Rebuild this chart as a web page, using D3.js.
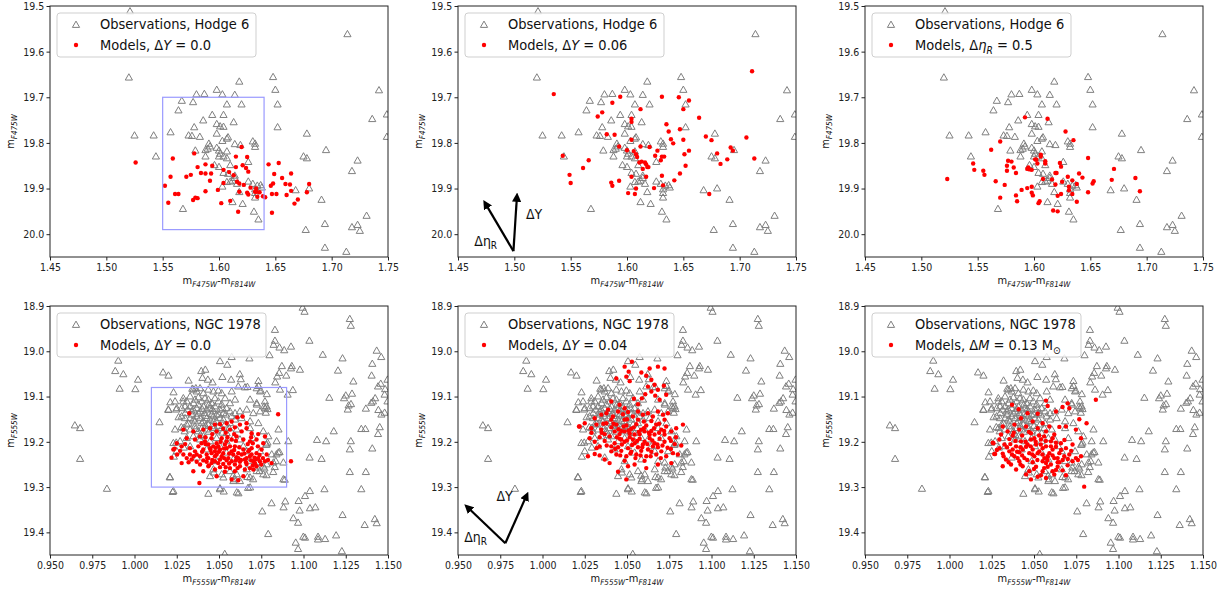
<!DOCTYPE html>
<html><head><meta charset="utf-8">
<script src="https://cdn.jsdelivr.net/npm/d3@7"></script>
<style>body{margin:0;background:#fff}svg{display:block}</style>
</head><body><svg id="c" width="1224" height="590"></svg>
<script>
// ---------------- DATA ----------------
const xTicksTop = [1.45,1.50,1.55,1.60,1.65,1.70,1.75];
const yTicksTop = [19.5,19.6,19.7,19.8,19.9,20.0];
const xTicksBot = [0.950,0.975,1.000,1.025,1.050,1.075,1.100,1.125,1.150];
const yTicksBot = [18.9,19.0,19.1,19.2,19.3,19.4];
const xDomainTop = [1.45,1.75], yDomainTop = [19.5,20.05];
const xDomainBot = [0.95,1.15], yDomainBot = [18.9,19.45];
const obsLabels = ["Observations, Hodge 6","Observations, NGC 1978"];
const modelLabels = [
  [["Models, Δ",""],["Y","i"],[" = 0.0",""]],
  [["Models, Δ",""],["Y","i"],[" = 0.06",""]],
  [["Models, Δ",""],["η","i"],["R","isub"],[" = 0.5",""]],
  [["Models, Δ",""],["Y","i"],[" = 0.0",""]],
  [["Models, Δ",""],["Y","i"],[" = 0.04",""]],
  [["Models, Δ",""],["M","i"],[" = 0.13 M",""],["⊙","sub"]]
];
const xLabelTop = ["m","F475W","-","m","F814W"];
const xLabelBot = ["m","F555W","-","m","F814W"];
const yLabelTop = ["m","F475W"], yLabelBot = ["m","F555W"];
// selection boxes [x0,x1,y0,y1]
const boxTop = [1.55,1.64,19.70,19.99];
const boxBot = [1.01,1.09,19.08,19.30];
// arrows: [x0,y0,x1,y1]
const arrowsTopY = [1.4992,20.037,1.5021,19.925];
const arrowsTopEta = [1.4992,20.037,1.4758,19.939];
const arrowLabelsTop = [[1.5175,19.956],[1.4746,20.015]];
const arrowsBotY = [0.978,19.424,0.9898,19.325];
const arrowsBotEta = [0.978,19.424,0.9569,19.349];
const arrowLabelsBot = [[0.9776,19.320],[0.9604,19.410]];

const obsHodge6 = [[1.521,19.512],[1.714,19.562],[1.520,19.657],[1.648,19.656],[1.650,19.684],[1.618,19.666],[1.742,19.685],[1.598,19.684],[1.603,19.694],[1.580,19.694],[1.587,19.693],[1.614,19.695],[1.567,19.708],[1.577,19.711],[1.564,19.729],[1.607,19.716],[1.620,19.716],[1.652,19.716],[1.586,19.751],[1.594,19.739],[1.604,19.739],[1.613,19.755],[1.598,19.759],[1.601,19.764],[1.604,19.765],[1.578,19.766],[1.652,19.766],[1.736,19.748],[1.749,19.738],[1.525,19.784],[1.542,19.784],[1.557,19.777],[1.573,19.784],[1.576,19.785],[1.583,19.787],[1.598,19.780],[1.607,19.791],[1.608,19.788],[1.603,19.796],[1.678,19.780],[1.749,19.787],[1.614,19.803],[1.619,19.805],[1.630,19.797],[1.632,19.802],[1.632,19.809],[1.591,19.802],[1.592,19.808],[1.590,19.813],[1.588,19.816],[1.579,19.817],[1.598,19.811],[1.600,19.817],[1.607,19.819],[1.601,19.824],[1.604,19.830],[1.600,19.830],[1.607,19.834],[1.588,19.830],[1.544,19.830],[1.675,19.830],[1.678,19.834],[1.695,19.816],[1.723,19.839],[1.718,19.862],[1.596,19.849],[1.600,19.853],[1.610,19.849],[1.626,19.842],[1.604,19.866],[1.608,19.868],[1.614,19.872],[1.614,19.877],[1.607,19.886],[1.610,19.885],[1.612,19.883],[1.616,19.890],[1.603,19.896],[1.626,19.885],[1.630,19.890],[1.634,19.894],[1.637,19.893],[1.638,19.898],[1.632,19.902],[1.632,19.910],[1.632,19.920],[1.618,19.908],[1.668,19.904],[1.680,19.900],[1.691,19.925],[1.612,19.930],[1.621,19.934],[1.568,19.945],[1.631,19.951],[1.635,19.968],[1.677,19.991],[1.694,19.978],[1.718,19.985],[1.723,19.980],[1.725,19.993],[1.731,19.960],[1.694,20.030],[1.713,20.039]];

const modHodgeY0 = [[1.526,19.843],[1.552,19.894],[1.555,19.931],[1.557,19.874],[1.559,19.834],[1.561,19.912],[1.564,19.912],[1.571,19.874],[1.575,19.870],[1.578,19.823],[1.577,19.925],[1.579,19.920],[1.581,19.921],[1.581,19.853],[1.584,19.866],[1.588,19.847],[1.588,19.867],[1.588,19.906],[1.592,19.883],[1.593,19.867],[1.594,19.850],[1.599,19.903],[1.602,19.932],[1.604,19.859],[1.604,19.888],[1.609,19.864],[1.610,19.927],[1.613,19.871],[1.615,19.853],[1.615,19.830],[1.616,19.885],[1.618,19.907],[1.617,19.951],[1.618,19.889],[1.620,19.809],[1.621,19.849],[1.622,19.892],[1.625,19.831],[1.624,19.855],[1.626,19.863],[1.625,19.909],[1.626,19.913],[1.628,19.898],[1.632,19.907],[1.633,19.900],[1.633,19.907],[1.634,19.918],[1.636,19.908],[1.639,19.917],[1.641,19.919],[1.644,19.847],[1.646,19.894],[1.647,19.912],[1.647,19.953],[1.648,19.889],[1.649,19.868],[1.651,19.912],[1.653,19.844],[1.656,19.877],[1.659,19.890],[1.660,19.914],[1.663,19.891],[1.664,19.867],[1.664,19.905],[1.667,19.933],[1.670,19.924],[1.678,19.908],[1.680,19.890]];

const modHodgeY06 = [[1.535,19.693],[1.543,19.828],[1.549,19.870],[1.550,19.888],[1.561,19.855],[1.566,19.838],[1.574,19.742],[1.578,19.733],[1.582,19.781],[1.586,19.887],[1.587,19.894],[1.587,19.712],[1.589,19.782],[1.594,19.699],[1.593,19.808],[1.593,19.883],[1.600,19.816],[1.601,19.910],[1.604,19.747],[1.604,19.754],[1.604,19.793],[1.604,19.874],[1.606,19.818],[1.607,19.912],[1.608,19.900],[1.608,19.825],[1.609,19.831],[1.611,19.843],[1.612,19.726],[1.612,19.808],[1.613,19.841],[1.614,19.857],[1.616,19.843],[1.617,19.874],[1.617,19.847],[1.618,19.853],[1.619,19.853],[1.620,19.809],[1.624,19.899],[1.625,19.828],[1.627,19.817],[1.630,19.838],[1.631,19.830],[1.631,19.699],[1.631,19.872],[1.632,19.893],[1.633,19.830],[1.635,19.759],[1.637,19.775],[1.641,19.801],[1.639,19.792],[1.642,19.882],[1.646,19.700],[1.647,19.770],[1.647,19.867],[1.650,19.726],[1.650,19.793],[1.651,19.825],[1.652,19.850],[1.655,19.707],[1.655,19.817],[1.664,19.745],[1.670,19.786],[1.673,19.912],[1.675,19.794],[1.680,19.823],[1.683,19.846],[1.689,19.836],[1.692,19.810],[1.694,19.817],[1.706,19.788],[1.711,19.643],[1.713,19.834]];

const modHodgeEta = [[1.523,19.879],[1.546,19.845],[1.547,19.859],[1.555,19.861],[1.556,19.870],[1.562,19.815],[1.566,19.884],[1.570,19.797],[1.570,19.920],[1.574,19.892],[1.576,19.850],[1.576,19.861],[1.577,19.839],[1.580,19.841],[1.582,19.854],[1.584,19.866],[1.584,19.915],[1.585,19.928],[1.589,19.903],[1.592,19.744],[1.594,19.899],[1.594,19.857],[1.595,19.854],[1.596,19.858],[1.598,19.859],[1.598,19.909],[1.599,19.915],[1.598,19.896],[1.601,19.836],[1.602,19.837],[1.603,19.845],[1.604,19.932],[1.605,19.928],[1.606,19.826],[1.606,19.830],[1.608,19.879],[1.610,19.845],[1.610,19.840],[1.612,19.747],[1.616,19.880],[1.617,19.948],[1.619,19.866],[1.619,19.891],[1.620,19.866],[1.621,19.950],[1.621,19.916],[1.623,19.844],[1.624,19.852],[1.624,19.912],[1.625,19.885],[1.628,19.775],[1.630,19.874],[1.631,19.896],[1.631,19.904],[1.634,19.882],[1.634,19.912],[1.635,19.794],[1.638,19.890],[1.638,19.929],[1.640,19.867],[1.643,19.876],[1.648,19.833],[1.648,19.908],[1.652,19.889],[1.653,19.884],[1.669,19.881],[1.671,19.857],[1.690,19.877],[1.694,19.906]];

const obsNGC1978 = [[1.0995,18.904],[1.1006,18.913],[1.1274,18.929],[1.1280,18.944],[1.0831,18.953],[1.0831,18.977],[1.1035,18.977],[1.0823,18.986],[1.0858,18.992],[1.0886,18.998],[1.0926,18.990],[1.1433,18.999],[1.1460,19.013],[1.1114,19.008],[1.1231,19.016],[1.0799,19.009],[1.0575,19.013],[1.0506,19.022],[1.0680,19.016],[0.9904,19.021],[0.9886,19.044],[0.9934,19.051],[0.9912,19.083],[1.0021,19.063],[1.0005,19.084],[1.0169,19.047],[1.0201,19.054],[1.0320,19.065],[1.0148,19.157],[0.9647,19.164],[0.9678,19.170],[0.9678,19.238],[0.9837,19.304],[1.0209,19.278],[1.0226,19.311],[1.0437,19.315],[1.0506,19.303],[1.0528,19.310],[1.0615,19.314],[1.0672,19.302],[1.0756,19.354],[1.0791,19.404],[1.0811,19.336],[1.0882,19.345],[1.0892,19.332],[1.0940,19.369],[1.0971,19.331],[1.0977,19.352],[1.0968,19.379],[1.0954,19.423],[1.0968,19.437],[1.0999,19.410],[1.1009,19.412],[1.1009,19.320],[1.1038,19.309],[1.1038,19.347],[1.1070,19.345],[1.1086,19.410],[1.1086,19.416],[1.1128,19.415],[1.1124,19.305],[1.1193,19.407],[1.1227,19.442],[1.1231,19.362],[1.1342,19.305],[1.1362,19.384],[1.1422,19.371],[1.1433,19.380],[1.1369,19.267],[1.1274,19.267],[1.1274,19.217],[1.1280,19.199],[1.1407,19.215],[1.1080,19.196],[1.1134,19.199],[1.1036,19.235],[1.1107,19.238],[1.1179,19.177],[1.1342,19.172],[1.1366,19.172],[1.1441,19.183],[1.1451,19.168],[1.1461,19.140],[1.1443,19.130],[1.1480,19.136],[1.1480,19.096],[1.1497,19.111],[1.1411,19.111],[1.1401,19.114],[1.1424,19.104],[1.1369,19.127],[1.1262,19.129],[1.1267,19.120],[1.1281,19.117],[1.1287,19.094],[1.1250,19.098],[1.1240,19.104],[1.1295,19.067],[1.1204,19.043],[1.1153,19.103],[1.1403,19.054],[1.1407,19.028],[1.1457,19.072],[1.1441,19.078],[1.1483,19.084],[1.1497,19.063],[1.0979,19.041],[1.0926,19.038],[1.0931,19.033],[1.0872,19.033],[1.0898,19.054],[1.0856,19.048],[1.0844,19.056],[1.0833,19.069],[1.0906,19.096],[1.0937,19.086],[1.0783,19.095],[1.0734,19.077],[1.0747,19.087],[1.0668,19.079],[1.0623,19.051],[1.0629,19.062],[1.0572,19.063],[1.0520,19.057],[1.0462,19.069],[1.0549,19.030],[1.0395,19.044],[1.0419,19.041],[1.0434,19.063],[1.0402,19.059],[1.0342,19.083],[1.0363,19.082],[1.0231,19.091],[1.0212,19.113],[1.0240,19.111],[1.0201,19.130],[1.0247,19.129],[1.0288,19.111],[1.0315,19.129],[1.0261,19.146],[1.0277,19.168],[1.0297,19.177],[1.0247,19.202],[1.0233,19.233],[1.0292,19.213],[1.0787,19.128],[1.0777,19.136],[1.0724,19.118],[1.0767,19.122],[1.0852,19.173],[1.0787,19.202],[1.0779,19.207],[1.0910,19.199],[1.0858,19.223],[1.0840,19.228],[1.0836,19.243],[1.0881,19.246],[1.0830,19.256],[1.0763,19.255],[1.0769,19.259],[1.0740,19.265],[1.0821,19.267],[1.0781,19.274],[1.0889,19.284],[1.0702,19.283],[1.0727,19.257],[1.0668,19.278],[1.0589,19.283],[1.0584,19.275],[1.0470,19.268],[1.0534,19.448],
[1.0733,19.066],[1.0348,19.085],[1.0368,19.089],[1.0388,19.082],[1.0408,19.093],[1.0437,19.085],[1.0467,19.089],[1.0496,19.087],[1.0516,19.093],[1.0575,19.089],[1.0614,19.078],[1.0654,19.080],[1.0723,19.082],[1.0743,19.089],[1.0861,19.085],[1.0289,19.104],[1.0329,19.100],[1.0358,19.107],[1.0378,19.102],[1.0398,19.111],[1.0417,19.104],[1.0437,19.107],[1.0457,19.115],[1.0476,19.104],[1.0496,19.111],[1.0536,19.104],[1.0565,19.115],[1.0595,19.107],[1.0684,19.107],[1.0723,19.115],[1.0772,19.111],[1.0782,19.122],[1.0200,19.129],[1.0250,19.126],[1.0279,19.126],[1.0299,19.122],[1.0329,19.122],[1.0348,19.129],[1.0368,19.126],[1.0388,19.133],[1.0408,19.122],[1.0427,19.129],[1.0447,19.126],[1.0467,19.133],[1.0486,19.140],[1.0506,19.129],[1.0526,19.137],[1.0545,19.126],[1.0565,19.133],[1.0595,19.137],[1.0624,19.133],[1.0664,19.129],[1.0703,19.137],[1.0743,19.133],[1.0772,19.126],[1.0279,19.144],[1.0299,19.148],[1.0329,19.148],[1.0348,19.151],[1.0368,19.144],[1.0388,19.148],[1.0408,19.155],[1.0427,19.148],[1.0447,19.151],[1.0467,19.144],[1.0486,19.155],[1.0506,19.148],[1.0526,19.151],[1.0565,19.159],[1.0595,19.151],[1.0634,19.148],[1.0684,19.155],[1.0733,19.159],[1.0240,19.173],[1.0289,19.170],[1.0329,19.173],[1.0358,19.166],[1.0378,19.177],[1.0398,19.170],[1.0427,19.173],[1.0457,19.166],[1.0486,19.177],[1.0516,19.170],[1.0545,19.181],[1.0605,19.173],[1.0684,19.170],[1.0762,19.177],[1.0792,19.188],[1.0230,19.203],[1.0270,19.199],[1.0309,19.192],[1.0348,19.188],[1.0388,19.195],[1.0486,19.192],[1.0545,19.199],[1.0624,19.195],[1.0703,19.192],[1.0782,19.206],[1.0841,19.199],[1.0250,19.221],[1.0329,19.210],[1.0427,19.217],[1.0545,19.224],[1.0664,19.221],[1.0743,19.221],[1.0812,19.228],[1.0851,19.224],[1.0368,19.235],[1.0486,19.243],[1.0585,19.239],[1.0684,19.243],[1.0723,19.246],[1.0782,19.250],[1.0822,19.246],[1.0467,19.261],[1.0516,19.272],[1.0565,19.265],[1.0605,19.272],[1.0664,19.261],[1.0723,19.265],[1.0762,19.272],[1.0210,19.279],[1.0447,19.276],[1.0526,19.279],[1.0585,19.287],[1.0624,19.287],[1.0684,19.279],[1.0881,19.283],[1.0230,19.309],[1.0506,19.305],[1.0605,19.312],[1.0684,19.301],
[1.0309,19.111],[1.0338,19.133],[1.0378,19.118],[1.0417,19.137],[1.0457,19.140],[1.0476,19.122],[1.0516,19.118],[1.0358,19.155],[1.0437,19.162],[1.0398,19.159],[1.0467,19.155],[1.0536,19.162],[1.0309,19.162],[1.0575,19.144],[1.0408,19.188],[1.0447,19.199],[1.0585,19.192],[1.0644,19.210],[1.0506,19.210],
[1.0350,19.115],[1.0380,19.138],[1.0400,19.128],[1.0420,19.143],[1.0440,19.118],[1.0460,19.128],[1.0500,19.140],[1.0520,19.126],[1.0540,19.140],[1.0360,19.172],[1.0390,19.185],[1.0420,19.165],[1.0440,19.178],[1.0470,19.170],[1.0500,19.165],[1.0520,19.180],[1.0340,19.140],[1.0320,19.160],[1.0300,19.137],[1.0560,19.170]];

const modNGCY0 = [[1.0324,19.137],[1.0850,19.139],[1.0608,19.146],[1.0640,19.144],[1.0575,19.155],[1.0545,19.159],[1.0506,19.161],[1.0476,19.162],[1.0624,19.162],[1.0663,19.159],[1.0289,19.173],[1.0348,19.177],[1.0407,19.173],[1.0447,19.170],[1.0486,19.177],[1.0525,19.171],[1.0565,19.173],[1.0594,19.168],[1.0634,19.177],[1.0663,19.170],[1.0693,19.181],[1.0732,19.183],[1.0772,19.188],[1.0250,19.203],[1.0309,19.192],[1.0358,19.195],[1.0388,19.188],[1.0417,19.199],[1.0456,19.192],[1.0486,19.203],[1.0516,19.192],[1.0545,19.199],[1.0575,19.195],[1.0604,19.188],[1.0644,19.195],[1.0683,19.199],[1.0722,19.195],[1.0762,19.203],[1.0230,19.217],[1.0279,19.210],[1.0289,19.228],[1.0328,19.214],[1.0358,19.221],[1.0378,19.210],[1.0407,19.217],[1.0427,19.228],[1.0447,19.214],[1.0476,19.221],[1.0496,19.210],[1.0525,19.225],[1.0545,19.214],[1.0575,19.221],[1.0594,19.210],[1.0614,19.225],[1.0644,19.217],[1.0673,19.221],[1.0693,19.214],[1.0722,19.225],[1.0752,19.217],[1.0782,19.228],[1.0279,19.247],[1.0309,19.236],[1.0338,19.239],[1.0368,19.244],[1.0388,19.232],[1.0407,19.241],[1.0437,19.236],[1.0456,19.247],[1.0476,19.232],[1.0506,19.239],[1.0525,19.249],[1.0555,19.236],[1.0575,19.243],[1.0604,19.234],[1.0624,19.244],[1.0653,19.239],[1.0683,19.232],[1.0703,19.243],[1.0732,19.236],[1.0772,19.243],[1.0811,19.247],[1.0348,19.265],[1.0407,19.265],[1.0437,19.254],[1.0476,19.261],[1.0506,19.256],[1.0535,19.266],[1.0565,19.258],[1.0594,19.265],[1.0624,19.254],[1.0653,19.261],[1.0683,19.258],[1.0722,19.254],[1.0384,19.291],[1.0486,19.276],[1.0575,19.283],[1.0614,19.285],[1.0644,19.276],[1.0397,19.203],[1.0437,19.206],[1.0466,19.210],[1.0506,19.217],[1.0535,19.206],[1.0565,19.210],[1.0584,19.228],[1.0614,19.236],[1.0634,19.228],[1.0663,19.236],[1.0693,19.228],[1.0713,19.247],[1.0742,19.243],[1.0486,19.228],[1.0456,19.225],[1.0427,19.244],[1.0388,19.250],[1.0368,19.228],[1.0328,19.228],[1.0545,19.241],[1.0594,19.250],[1.0663,19.249],[1.0703,19.261],[1.0476,19.243],[1.0516,19.232],[1.0926,19.243],[1.0237,19.215],[1.0219,19.235],[1.0252,19.228],
[1.0420,19.205],[1.0450,19.218],[1.0480,19.213],[1.0500,19.222],[1.0530,19.215],[1.0560,19.226],[1.0590,19.218],[1.0620,19.212],[1.0650,19.226],[1.0680,19.218],[1.0710,19.235],[1.0740,19.229],[1.0430,19.236],[1.0460,19.240],[1.0495,19.247],[1.0530,19.236],[1.0560,19.248],[1.0600,19.241],[1.0630,19.240],[1.0660,19.245],[1.0690,19.241],[1.0720,19.238],[1.0760,19.236],[1.0790,19.240],[1.0510,19.200],[1.0550,19.190],[1.0600,19.198],[1.0670,19.205],[1.0700,19.203],[1.0400,19.222],[1.0350,19.232],[1.0320,19.245],[1.0440,19.252],[1.0540,19.256],[1.0610,19.258],[1.0700,19.252],[1.0750,19.250],[1.0420,19.190],[1.0460,19.183],[1.0540,19.180],[1.0590,19.183],[1.0690,19.190],[1.0730,19.210],[1.0300,19.205],[1.0270,19.220]];

const modNGCY04 = [[1.0529,19.023],[1.0486,19.034],[1.0510,19.045],[1.0585,19.047],[1.0437,19.060],[1.0496,19.056],[1.0516,19.066],[1.0614,19.054],[1.0644,19.063],[1.0634,19.038],[1.0683,19.034],[1.0722,19.038],[1.0624,19.078],[1.0663,19.074],[1.0683,19.085],[1.0718,19.076],[1.0608,19.095],[1.0644,19.089],[1.0588,19.104],[1.0541,19.105],[1.0565,19.117],[1.0667,19.098],[1.0693,19.107],[1.0732,19.096],[1.0456,19.118],[1.0486,19.126],[1.0407,19.111],[1.0388,19.129],[1.0309,19.148],[1.0348,19.140],[1.0378,19.137],[1.0417,19.144],[1.0447,19.133],[1.0476,19.139],[1.0506,19.134],[1.0535,19.144],[1.0565,19.133],[1.0594,19.140],[1.0624,19.137],[1.0653,19.144],[1.0683,19.133],[1.0713,19.140],[1.0742,19.137],[1.0407,19.151],[1.0486,19.151],[1.0565,19.151],[1.0644,19.154],[1.0722,19.151],[1.0220,19.166],[1.0250,19.159],[1.0289,19.170],[1.0319,19.162],[1.0348,19.173],[1.0378,19.159],[1.0407,19.168],[1.0437,19.162],[1.0466,19.176],[1.0496,19.164],[1.0525,19.171],[1.0555,19.161],[1.0584,19.173],[1.0614,19.164],[1.0644,19.176],[1.0673,19.162],[1.0703,19.173],[1.0732,19.166],[1.0762,19.177],[1.0791,19.170],[1.0831,19.162],[1.0368,19.183],[1.0456,19.183],[1.0545,19.184],[1.0634,19.184],[1.0722,19.184],[1.0279,19.192],[1.0309,19.200],[1.0338,19.190],[1.0368,19.198],[1.0397,19.188],[1.0427,19.203],[1.0456,19.193],[1.0486,19.200],[1.0516,19.190],[1.0545,19.203],[1.0575,19.193],[1.0604,19.200],[1.0634,19.192],[1.0663,19.203],[1.0693,19.193],[1.0722,19.200],[1.0752,19.192],[1.0782,19.205],[1.0821,19.208],[1.0338,19.210],[1.0447,19.212],[1.0565,19.212],[1.0683,19.212],[1.0269,19.232],[1.0309,19.227],[1.0338,19.230],[1.0368,19.239],[1.0407,19.221],[1.0437,19.228],[1.0466,19.220],[1.0496,19.232],[1.0525,19.222],[1.0555,19.228],[1.0584,19.220],[1.0614,19.232],[1.0644,19.222],[1.0673,19.228],[1.0703,19.221],[1.0732,19.232],[1.0772,19.225],[1.0801,19.228],[1.0486,19.242],[1.0604,19.242],[1.0447,19.266],[1.0506,19.254],[1.0545,19.250],[1.0614,19.258],[1.0496,19.283],[1.0397,19.247],[1.0683,19.250],[1.0762,19.247],[1.0427,19.177],[1.0486,19.177],[1.0516,19.181],[1.0575,19.183],[1.0604,19.177],[1.0663,19.184],[1.0466,19.195],[1.0535,19.195],[1.0594,19.206],[1.0653,19.210],[1.0506,19.214],[1.0624,19.217],[1.0407,19.210],[1.0216,19.166],
[1.0420,19.160],[1.0450,19.172],[1.0480,19.166],[1.0510,19.175],[1.0540,19.168],[1.0570,19.178],[1.0600,19.170],[1.0630,19.180],[1.0660,19.170],[1.0690,19.180],[1.0720,19.176],[1.0440,19.190],[1.0470,19.206],[1.0500,19.197],[1.0530,19.207],[1.0560,19.198],[1.0590,19.212],[1.0620,19.205],[1.0650,19.197],[1.0680,19.206],[1.0710,19.208],[1.0740,19.213],[1.0430,19.216],[1.0460,19.230],[1.0520,19.226],[1.0550,19.236],[1.0580,19.230],[1.0640,19.232],[1.0700,19.236],[1.0760,19.216],[1.0350,19.180],[1.0380,19.208],[1.0320,19.214],[1.0290,19.180],[1.0360,19.160],[1.0760,19.198],[1.0790,19.190],[1.0500,19.150],[1.0600,19.155],[1.0690,19.160]];

const modNGCdM = [[1.0370,19.118],[1.0571,19.109],[1.0581,19.121],[1.0669,19.123],[1.0699,19.115],[1.0709,19.126],[1.0866,19.107],[1.0630,19.133],[1.0768,19.150],[1.0811,19.159],[1.0409,19.128],[1.0462,19.137],[1.0522,19.138],[1.0423,19.148],[1.0492,19.155],[1.0551,19.159],[1.0689,19.166],[1.0650,19.167],[1.0748,19.173],[1.0778,19.192],[1.0315,19.166],[1.0344,19.177],[1.0384,19.162],[1.0413,19.173],[1.0453,19.166],[1.0482,19.181],[1.0522,19.170],[1.0571,19.177],[1.0591,19.166],[1.0620,19.184],[1.0374,19.186],[1.0305,19.184],[1.0260,19.203],[1.0295,19.195],[1.0325,19.206],[1.0354,19.194],[1.0394,19.210],[1.0423,19.199],[1.0453,19.211],[1.0482,19.195],[1.0512,19.206],[1.0541,19.195],[1.0571,19.210],[1.0600,19.199],[1.0630,19.211],[1.0659,19.203],[1.0689,19.214],[1.0728,19.206],[1.0295,19.214],[1.0502,19.192],[1.0265,19.227],[1.0315,19.226],[1.0354,19.221],[1.0384,19.232],[1.0413,19.223],[1.0443,19.236],[1.0472,19.225],[1.0502,19.232],[1.0531,19.221],[1.0561,19.236],[1.0591,19.225],[1.0620,19.236],[1.0650,19.225],[1.0679,19.232],[1.0709,19.228],[1.0748,19.236],[1.0778,19.232],[1.0334,19.239],[1.0413,19.243],[1.0492,19.245],[1.0571,19.247],[1.0650,19.245],[1.0728,19.243],[1.0315,19.254],[1.0364,19.250],[1.0394,19.261],[1.0433,19.254],[1.0472,19.265],[1.0512,19.255],[1.0551,19.265],[1.0581,19.255],[1.0610,19.265],[1.0640,19.255],[1.0669,19.263],[1.0699,19.252],[1.0541,19.274],[1.0620,19.272],[1.0453,19.272],[1.0689,19.274],[1.0482,19.283],[1.0522,19.277],[1.0571,19.280],[1.0797,19.299],[1.0374,19.217],[1.0433,19.217],[1.0492,19.217],[1.0551,19.214],[1.0610,19.217],[1.0462,19.206],[1.0522,19.225],[1.0581,19.232],[1.0640,19.236],[1.0403,19.236],[1.0551,19.243],[1.0600,19.250],[1.0256,19.202],[1.0270,19.227],
[1.0360,19.205],[1.0390,19.198],[1.0420,19.212],[1.0450,19.200],[1.0480,19.210],[1.0510,19.200],[1.0540,19.206],[1.0570,19.198],[1.0600,19.210],[1.0630,19.202],[1.0660,19.218],[1.0370,19.228],[1.0400,19.222],[1.0430,19.230],[1.0460,19.240],[1.0490,19.228],[1.0520,19.240],[1.0550,19.228],[1.0580,19.240],[1.0610,19.230],[1.0640,19.245],[1.0670,19.240],[1.0700,19.238],[1.0340,19.212],[1.0320,19.232],[1.0350,19.245],[1.0420,19.250],[1.0500,19.260],[1.0560,19.258],[1.0630,19.262],[1.0380,19.180],[1.0430,19.186],[1.0470,19.178],[1.0530,19.186],[1.0560,19.188],[1.0610,19.192],[1.0680,19.196],[1.0720,19.220],[1.0760,19.240],[1.0280,19.218]];

// ---------------- DRAW ----------------
const svg = d3.select("#c");
const FONT = "DejaVu Sans, Noto Sans, sans-serif";
const SX = 0.9; // horizontal squeeze of the original rendering
const colLeft = [50, 458, 865], panelW = 338;
const rows = [
  {top:6, h:251, xd:xDomainTop, yd:yDomainTop, xt:xTicksTop, yt:yTicksTop, xf:d3.format(".2f"), yf:d3.format(".1f"),
   obs:obsHodge6, models:[modHodgeY0,modHodgeY06,modHodgeEta], obsLabel:obsLabels[0], box:boxTop, xl:xLabelTop, yl:yLabelTop, legW:199,
   arrows:[arrowsTopY,arrowsTopEta], arrowLabels:arrowLabelsTop},
  {top:306, h:249, xd:xDomainBot, yd:yDomainBot, xt:xTicksBot, yt:yTicksBot, xf:d3.format(".3f"), yf:d3.format(".1f"),
   obs:obsNGC1978, models:[modNGCY0,modNGCY04,modNGCdM], obsLabel:obsLabels[1], box:boxBot, xl:xLabelBot, yl:yLabelBot, legW:209,
   arrows:[arrowsBotY,arrowsBotEta], arrowLabels:arrowLabelsBot}
];
const triPath = "M0,-3.9L3.6,2.4L-3.6,2.4Z";

const defs = svg.append("defs");
defs.append("marker").attr("id","ah").attr("viewBox","0 0 10 10").attr("refX",2).attr("refY",5)
  .attr("markerWidth",4.2).attr("markerHeight",4.2).attr("orient","auto")
  .append("path").attr("d","M0,0L10,5L0,10Z").attr("fill","#000");

function sqText(parent, x, y, anchor, size){
  const g = parent.append("g").attr("transform",`translate(${x},${y}) scale(${SX},1)`);
  return g.append("text").attr("text-anchor",anchor).attr("font-family",FONT).attr("font-size",size).attr("fill","#111");
}
function addSegs(t, segs, size){
  let lastSub = false;
  segs.forEach(([s,st])=>{
    const sp = t.append("tspan").text(s);
    const isSub = (st==="sub"||st==="isub");
    if(st==="i"||st==="isub") sp.attr("font-style","italic");
    if(isSub) sp.attr("font-size",size*0.7).attr("dy",size*0.22);
    else if(lastSub) sp.attr("dy",-size*0.22);
    lastSub = isSub;
  });
}

rows.forEach((R,ri)=>{
  colLeft.forEach((L,ci)=>{
    const idx = ri*3+ci;
    const x = d3.scaleLinear().domain(R.xd).range([L, L+panelW]);
    const y = d3.scaleLinear().domain(R.yd).range([R.top, R.top+R.h]);
    const g = svg.append("g");
    const cid = "clip"+idx;
    defs.append("clipPath").attr("id",cid).append("rect").attr("x",L).attr("y",R.top).attr("width",panelW).attr("height",R.h);
    const pg = g.append("g").attr("clip-path",`url(#${cid})`);
    pg.selectAll("path.obs").data(R.obs).join("path").attr("class","obs")
      .attr("d",triPath).attr("transform",d=>`translate(${x(d[0])},${y(d[1])})`)
      .attr("fill","none").attr("stroke","#7f7f7f").attr("stroke-width",1);
    pg.selectAll("circle.mod").data(R.models[ci]).join("circle").attr("class","mod")
      .attr("cx",d=>x(d[0])).attr("cy",d=>y(d[1])).attr("r",2.2).attr("fill","#ff0000");
    if(ci===0){
      const b = R.box;
      g.append("rect").attr("x",x(b[0])).attr("y",y(b[2])).attr("width",x(b[1])-x(b[0])).attr("height",y(b[3])-y(b[2]))
        .attr("fill","none").attr("stroke","#9a9aff").attr("stroke-width",1.2);
    }
    if(ci===1){
      R.arrows.forEach(a=>{
        g.append("line").attr("x1",x(a[0])).attr("y1",y(a[1])).attr("x2",x(a[2])).attr("y2",y(a[3]))
          .attr("stroke","#000").attr("stroke-width",2.2).attr("marker-end","url(#ah)");
      });
      const la = R.arrowLabels;
      const t1 = sqText(g, x(la[0][0]), y(la[0][1])+5, "middle", 14);
      t1.append("tspan").text("ΔY");
      const t2 = sqText(g, x(la[1][0]), y(la[1][1])+5, "middle", 14);
      t2.append("tspan").text("Δη");
      t2.append("tspan").text("R").attr("font-size",10).attr("dy",3);
    }
    g.append("rect").attr("x",L).attr("y",R.top).attr("width",panelW).attr("height",R.h)
      .attr("fill","none").attr("stroke","#222").attr("stroke-width",1);
    const ax = g.append("g").attr("transform",`translate(0,${R.top+R.h})`)
      .call(d3.axisBottom(x).tickValues(R.xt).tickFormat(R.xf).tickSize(3.5).tickPadding(3));
    const ay = g.append("g").attr("transform",`translate(${L},0)`)
      .call(d3.axisLeft(y).tickValues(R.yt).tickFormat(R.yf).tickSize(3.5).tickPadding(3));
    [ax,ay].forEach(a=>{
      a.select(".domain").remove();
      a.selectAll("line").attr("stroke","#222");
      a.selectAll("text").attr("font-family",FONT).attr("font-size",10.5).attr("fill","#222")
        .attr("transform",`scale(${SX},1)`);
    });
    const xl = sqText(g, L+panelW/2, R.top+R.h+27, "middle", 11);
    xl.append("tspan").text(R.xl[0]);
    xl.append("tspan").text(R.xl[1]).attr("font-size",8).attr("font-style","italic").attr("dy",2.5);
    xl.append("tspan").text(R.xl[2]).attr("dy",-2.5);
    xl.append("tspan").text(R.xl[3]);
    xl.append("tspan").text(R.xl[4]).attr("font-size",8).attr("font-style","italic").attr("dy",2.5);
    const ygp = g.append("g").attr("transform",`translate(${L-36},${R.top+R.h/2}) rotate(-90) scale(${SX},1)`);
    const ylt = ygp.append("text").attr("text-anchor","middle").attr("font-family",FONT).attr("font-size",11).attr("fill","#111");
    ylt.append("tspan").text(R.yl[0]);
    ylt.append("tspan").text(R.yl[1]).attr("font-size",8).attr("font-style","italic").attr("dy",2.5);
    const lg = g.append("g");
    lg.append("rect").attr("x",L+7).attr("y",R.top+7).attr("width",R.legW).attr("height",44).attr("rx",3)
      .attr("fill","#fff").attr("fill-opacity",0.85).attr("stroke","#cfcfcf").attr("stroke-width",1);
    lg.append("path").attr("d",triPath).attr("transform",`translate(${L+26},${R.top+19})`)
      .attr("fill","none").attr("stroke","#7f7f7f").attr("stroke-width",1);
    lg.append("circle").attr("cx",L+26).attr("cy",R.top+39).attr("r",2.2).attr("fill","#ff0000");
    const lt1 = sqText(lg, L+50, R.top+18+5.3, "start", 14.5);
    lt1.text(R.obsLabel);
    const lt2 = sqText(lg, L+50, R.top+39+5.3, "start", 14.5);
    addSegs(lt2, modelLabels[idx], 14.5);
  });
});
</script></body></html>
